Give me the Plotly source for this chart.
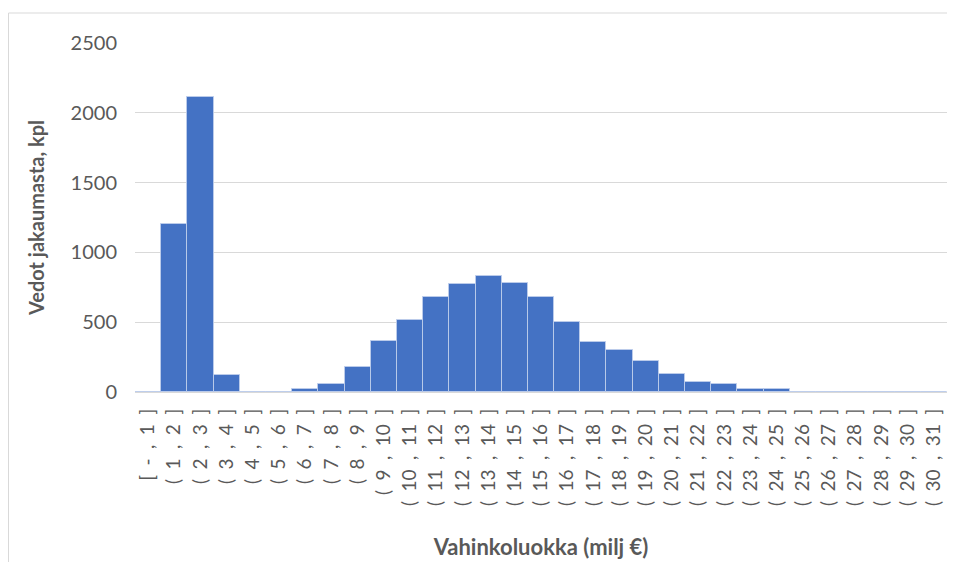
import plotly.graph_objects as go

SP = "\u2002"
lower = ["-"] + [str(i) for i in range(1, 31)]
upper = [str(i) for i in range(1, 32)]
categories = [("[" if i == 0 else "(") + SP + lo + SP + "," + SP + up + SP + "]"
              for i, (lo, up) in enumerate(zip(lower, upper))]

values = [0, 1200, 2110, 120, 0, 0, 20, 55, 180, 367, 516, 678, 774, 829, 778,
          680, 499, 356, 301, 220, 129, 70, 55, 25, 22, 0, 0, 0, 0, 0, 0]

y_ticks = [0, 500, 1000, 1500, 2000, 2500]

FONT = "Lato, 'Open Sans', sans-serif"
GRAY = "#595959"

fig = go.Figure(go.Bar(
    x=categories, y=values,
    marker=dict(color="#4472C4", line=dict(color="rgba(190,205,235,0.9)", width=1)),
    hoverinfo="x+y",
))

# page has an 8px body margin; figure sized to avoid scrollbars
W, H = 939, 554
L, R, T, B = 127, 0, 35, 170
pw, ph = W - L - R, H - T - B

fig.update_layout(
    width=W, height=H,
    margin=dict(l=L, r=R, t=T, b=B),
    paper_bgcolor="white", plot_bgcolor="white",
    bargap=0,
    showlegend=False,
    font=dict(family=FONT, color=GRAY, size=20),
    xaxis=dict(
        type="category", tickangle=-90, showgrid=False,
        showline=False, zeroline=False, ticks="",
        tickfont=dict(size=19, color=GRAY, family=FONT),
        ticklabelstandoff=12,
        title=dict(text="Vahinkoluokka (milj €)", standoff=34,
                   font=dict(size=22, color=GRAY, family=FONT, weight="bold")),
        automargin=False,
    ),
    yaxis=dict(
        range=[0, 2500], tickvals=y_ticks, showgrid=True, gridcolor="#d9d9d9",
        gridwidth=1, zeroline=True, zerolinecolor="#d9d9d9", zerolinewidth=1,
        showline=False, ticks="",
        tickfont=dict(size=20, color=GRAY, family=FONT),
        ticklabelstandoff=17,
        title=dict(text="Vedot jakaumasta, kpl", standoff=20,
                   font=dict(size=20, color=GRAY, family=FONT, weight="bold")),
        automargin=False,
    ),
    shapes=[dict(type="rect", xref="paper", yref="paper",
                 x0=(0.5 - L) / pw, x1=(W + 20 - L) / pw,
                 y0=-(H + 20 - T - ph) / ph, y1=1 + (T - 5) / ph,
                 line=dict(color="#d9d9d9", width=1), layer="below")],
)

fig.write_html("out.html")
